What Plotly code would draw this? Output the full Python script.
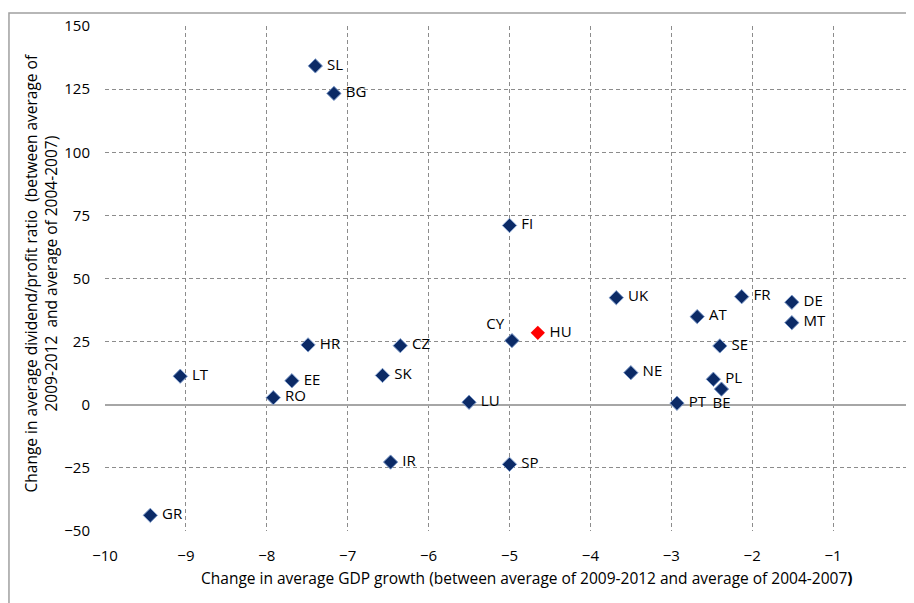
import plotly.graph_objects as go

# country codes and values
countries = ["SL", "BG", "FI", "UK", "FR", "DE", "MT", "AT", "CY", "HR", "CZ", "SE",
             "LT", "EE", "SK", "NE", "PL", "BE", "RO", "LU", "PT", "IR", "SP", "GR"]
gdp_change = [-7.40, -7.17, -5.00, -3.68, -2.13, -1.51, -1.51, -2.68, -4.97, -7.49, -6.35, -2.40,
              -9.07, -7.69, -6.57, -3.50, -2.48, -2.38, -7.92, -5.50, -2.93, -6.47, -5.00, -9.44]
div_change = [134.2, 123.3, 71.0, 42.4, 42.8, 40.6, 32.5, 34.9, 25.4, 23.7, 23.4, 23.3,
              11.3, 9.5, 11.6, 12.7, 10.1, 6.2, 2.8, 1.0, 0.6, -22.7, -23.6, -43.8]
label_pos = ["middle right"] * len(countries)
label_pos[countries.index("CY")] = "top left"
label_pos[countries.index("BE")] = "bottom center"

hu_name = ["HU"]
hu_gdp = [-4.65]
hu_div = [28.5]

x_ticks = list(range(-10, 1))
y_ticks = list(range(-50, 151, 25))

FONT = "'Open Sans', sans-serif"


def pad(labels, pos):
    # small gap between the marker and right-hand labels
    return ["\u00a0" + t if p == "middle right" else t for t, p in zip(labels, pos)]


fig = go.Figure()
fig.add_trace(go.Scatter(
    x=gdp_change, y=div_change, text=pad(countries, label_pos), mode="markers+text",
    textposition=label_pos,
    marker=dict(symbol="diamond", size=11, color="#0B2A66",
                line=dict(color="#7F9CCB", width=1)),
    textfont=dict(size=15, color="#000000", family=FONT),
    cliponaxis=False, showlegend=False,
))
fig.add_trace(go.Scatter(
    x=hu_gdp, y=hu_div, text=pad(hu_name, ["middle right"]), mode="markers+text",
    textposition="middle right",
    marker=dict(symbol="diamond", size=11, color="#FF0000"),
    textfont=dict(size=15, color="#000000", family=FONT),
    cliponaxis=False, showlegend=False,
))

axis_common = dict(
    showgrid=True, gridcolor="#8C8C8C", griddash="4px,3px", gridwidth=1,
    zeroline=True, zerolinecolor="#A6A6A6", zerolinewidth=1.5,
    showline=False, ticks="", automargin=False,
    tickfont=dict(size=15, color="#000000", family=FONT),
)

# page body adds 8px on the left/top, margins compensate for it
fig.update_layout(
    width=914, height=603,
    margin=dict(l=97, r=8, t=18, b=80),
    paper_bgcolor="white", plot_bgcolor="white",
    font=dict(family=FONT, color="#000000"),
    xaxis=dict(range=[-10, 0], tickvals=x_ticks, ticklabelstandoff=14, **axis_common),
    yaxis=dict(range=[-50, 150], tickvals=y_ticks, ticklabelstandoff=14, **axis_common),
    annotations=[
        dict(text="Change in average GDP growth (between average of 2009-2012 and average of 2004-2007<b>)</b>",
             xref="paper", yref="paper", x=0.5, y=0, xanchor="center", yanchor="middle",
             xshift=17, yshift=-47, showarrow=False,
             font=dict(size=15.5, family=FONT, color="#000000")),
        dict(text="Change in average dividend/profit ratio  (between average of<br>2009-2012  and average of 2004-2007)",
             xref="paper", yref="paper", x=0, y=0.51, xanchor="center", yanchor="middle",
             xshift=-64, textangle=-90, showarrow=False,
             font=dict(size=15.5, family=FONT, color="#000000")),
    ],
    shapes=[dict(type="rect", xref="paper", yref="paper",
                 x0=-0.1187, x1=1.05, y0=-0.2, y1=1.0257,
                 line=dict(color="#A0A0A0", width=1.5), layer="below")],
)

fig.write_html("out.html")
